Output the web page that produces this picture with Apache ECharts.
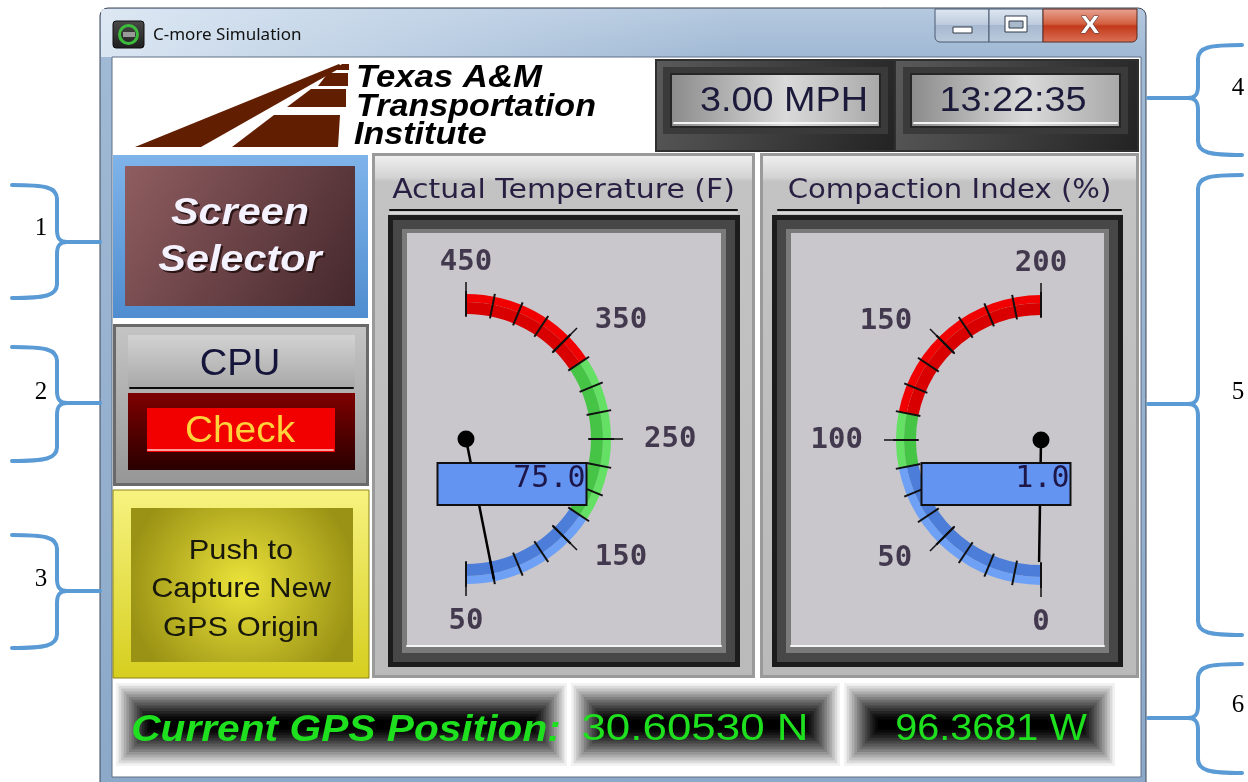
<!DOCTYPE html>
<html>
<head>
<meta charset="utf-8">
<title>C-more Simulation</title>
<script src="https://cdn.jsdelivr.net/npm/echarts@6/dist/echarts.min.js"></script>
<style>
  html, body { margin: 0; padding: 0; background: #fff; }
  #chart { width: 1248px; height: 782px; }
</style>
</head>
<body>
<div id="chart"></div>
<script>
// gauge scales and readings
const tempTicks = [50, 150, 250, 350, 450]
const tempBands = [175, 325, 450]      // top of blue, green, red zones
const tempValue = [75.0]
const compTicks = [0, 50, 100, 150, 200]
const compBands = [87.5, 112.5, 200]
const compValue = [1.0]

// readouts on the panel
const speedText = ['3.00 MPH']
const clockText = ['13:22:35']
const gpsLabel = ['Current GPS Position:']
const gpsCoords = ['30.60530 N', '96.3681 W']
const gaugeTitles = ['Actual Temperature (F)', 'Compaction Index (%)']
const buttonLines = ['Push to', 'Capture New', 'GPS Origin']
const calloutNums = ['1', '2', '3', '4', '5', '6']

const zoneMain = ['#4c7ed9', '#46c446', '#d80000']
const zoneRim = ['#6ea0f5', '#64e064', '#f00000']

const els = []
const LG = (x0, y0, x1, y1, stops) =>
  new echarts.graphic.LinearGradient(x0, y0, x1, y1, stops.map(s => ({ offset: s[0], color: s[1] })))
const RG = (r, stops) =>
  new echarts.graphic.RadialGradient(0.5, 0.5, r, stops.map(s => ({ offset: s[0], color: s[1] })))

function box(x, y, w, h, fill, stroke, lw, r) {
  const style = { fill }
  if (stroke) { style.stroke = stroke; style.lineWidth = lw || 1 }
  els.push({ type: 'rect', z: 1, z2: els.length, shape: { x, y, width: w, height: h, r: r || 0 }, style })
}
function line(x1, y1, x2, y2, stroke, lw) {
  els.push({ type: 'line', z: 1, z2: els.length, shape: { x1, y1, x2, y2 }, style: { stroke, lineWidth: lw || 1, lineCap: 'round' } })
}
function curve(x1, y1, cpx1, cpy1, cpx2, cpy2, x2, y2, stroke, lw) {
  els.push({
    type: 'bezierCurve', z: 1, z2: els.length,
    shape: { x1, y1, cpx1, cpy1, cpx2, cpy2, x2, y2 },
    style: { fill: null, stroke, lineWidth: lw, lineCap: 'round' }
  })
}
function poly(points, fill) {
  els.push({ type: 'polygon', z: 1, z2: els.length, shape: { points }, style: { fill } })
}
function txt(x, y, text, font, fill, align, sx, extra) {
  els.push({
    type: 'text', z: 1, z2: els.length, x, y, scaleX: sx || 1,
    style: Object.assign({ text, font, fill, align: align || 'center', verticalAlign: 'middle' }, extra || {})
  })
}
function pillow(x, y, w, h) {
  const n = 14
  for (let i = 0; i < n; i++) {
    const t = i / (n - 1)
    const g = Math.round(242 * Math.pow(1 - t, 1.3))
    const dx = i * 2.6, dy = i * 2.8
    box(x + dx, y + dy, w - 2 * dx, h - 2 * dy, `rgb(${g},${g},${g})`)
  }
}
function brace(xe, xv, xt, y0, ym, y1) {
  const d = xt > xv ? 1 : -1
  const c = '#5b9bd5', w = 4
  curve(xe, y0, xv - d * 12, y0, xv, y0 + 2, xv, y0 + 14, c, w)
  line(xv, y0 + 14, xv, ym - 12, c, w)
  curve(xv, ym - 12, xv, ym - 3, xv + d * 3, ym, xv + d * 10, ym, c, w)
  line(xv + d * 10, ym, xt, ym, c, w)
  curve(xv + d * 10, ym, xv + d * 3, ym, xv, ym + 3, xv, ym + 12, c, w)
  line(xv, ym + 12, xv, y1 - 14, c, w)
  curve(xv, y1 - 14, xv, y1 - 2, xv - d * 12, y1, xe, y1, c, w)
}

// ---- window chrome ----
box(100, 8, 1046, 800, LG(0, 0, 0, 1, [[0, '#b5c9df'], [0.06, '#a0b9d4'], [1, '#8ba8c9']]), '#3c4657', 1, [8, 8, 0, 0])
box(101, 9, 640, 48, LG(0, 0, 1, 0, [[0, 'rgba(228,237,247,0.85)'], [0.45, 'rgba(214,227,241,0.55)'], [1, 'rgba(214,227,241,0)']]))
box(112, 57, 1029, 720, '#ffffff', '#5f6f84', 1)
box(113, 21, 31, 27, LG(0, 0, 0, 1, [[0, '#4a4a4a'], [1, '#1e1e1e']]), '#0e0e0e', 1, 3)
els.push({ type: 'circle', z: 1, z2: els.length, shape: { cx: 128.5, cy: 34.5, r: 9 }, style: { fill: null, stroke: '#3dbb3d', lineWidth: 3 } })
box(123, 32, 12, 5, '#9a9a9a')
txt(153, 35, 'C-more Simulation', '17px "Noto Sans"', '#111', 'left')

box(935, 9, 54, 33, LG(0, 0, 0, 1, [[0, '#dfe8f2'], [0.48, '#bccbdd'], [0.5, '#a6b9d0'], [1, '#bccbdc']]), '#4a5a70', 1, [0, 0, 0, 5])
box(989, 9, 54, 33, LG(0, 0, 0, 1, [[0, '#dfe8f2'], [0.48, '#bccbdd'], [0.5, '#a6b9d0'], [1, '#bccbdc']]), '#4a5a70', 1)
box(1043, 9, 94, 33, LG(0, 0, 0, 1, [[0, '#eaa596'], [0.45, '#d2603f'], [0.52, '#c2381b'], [1, '#dc7257']]), '#5a2a20', 1, [0, 0, 5, 0])
box(953, 27, 19, 6, '#ffffff', '#303a48', 1)
box(1005, 16, 22, 16, '#ffffff', '#303a48', 1)
box(1009, 21, 14, 7, '#a9b9cc', '#303a48', 1)
txt(1090, 26, 'X', 'bold 24px "Liberation Sans"', '#ffffff', 'center', 1.15, { stroke: '#4a3a3a', lineWidth: 1 })

// ---- logo ----
const brown = '#621e00'
poly([[135, 147], [201, 147], [342, 67], [339, 64]], brown)
poly([[232, 147], [338, 147], [340, 115], [274, 115]], brown)
poly([[287, 107], [346, 107], [346, 89], [311, 89]], brown)
poly([[318, 86], [348, 86], [348, 73], [328, 73]], brown)
poly([[334, 70], [349, 70], [349, 64], [342, 64]], brown)
txt(356, 78, 'Texas A&M', 'italic bold 31px "Liberation Sans"', '#000', 'left', 1.12)
txt(356, 107, 'Transportation', 'italic bold 31px "Liberation Sans"', '#000', 'left', 1.1)
txt(354, 135, 'Institute', 'italic bold 31px "Liberation Sans"', '#000', 'left', 1.1)

// ---- speed / clock ----
box(655, 59, 484, 93, '#2f2f2f')
box(657, 61, 237, 89, LG(0, 0, 1, 1, [[0, '#5a5a5a'], [1, '#232323']]))
box(896, 61, 241, 89, LG(0, 0, 1, 1, [[0, '#5a5a5a'], [1, '#232323']]))
box(663, 67, 225, 67, '#3a3a3a')
box(903, 67, 225, 67, '#3a3a3a')
box(671, 74, 209, 53, LG(0, 0, 1, 0, [[0, '#8a8a8a'], [0.55, '#dadada'], [1, '#a8a8a8']]), '#262626', 2)
box(911, 74, 209, 53, LG(0, 0, 1, 0, [[0, '#8a8a8a'], [0.55, '#dadada'], [1, '#a8a8a8']]), '#262626', 2)
line(674, 123, 877, 123, '#f4f4f4', 2)
line(914, 123, 1117, 123, '#f4f4f4', 2)
txt(868, 101, speedText[0], '35px "Liberation Sans"', '#1c1a3a', 'right', 1.08)
txt(1013, 101, clockText[0], '35px "Liberation Sans"', '#1c1a3a', 'center', 1.08)

// ---- left buttons ----
box(113, 155, 255, 163, LG(0, 0, 0, 1, [[0, '#7fb4ea'], [1, '#4f8dd0']]))
box(125, 166, 230, 140, LG(0, 0, 1, 1, [[0, '#8f5d60'], [1, '#45282d']]))
txt(242, 216, 'Screen', 'italic bold 36px "Liberation Sans"', '#2a1414', 'center', 1.15)
txt(242, 263, 'Selector', 'italic bold 36px "Liberation Sans"', '#2a1414', 'center', 1.15)
txt(240, 214, 'Screen', 'italic bold 36px "Liberation Sans"', '#f4f2ff', 'center', 1.15)
txt(240, 261, 'Selector', 'italic bold 36px "Liberation Sans"', '#f4f2ff', 'center', 1.15)

box(113, 324, 256, 162, '#6a6a6a')
box(116, 327, 250, 156, LG(0, 0, 0, 1, [[0, '#c4c4c4'], [1, '#979797']]))
box(128, 335, 227, 52, LG(0, 0, 0, 1, [[0, '#d2d2d2'], [1, '#a9a9a9']]))
line(130, 388, 353, 388, '#0c0c0c', 2)
txt(240, 365, 'CPU', '36px "Liberation Sans"', '#15143a', 'center', 1.06)
box(128, 393, 227, 77, LG(0, 0, 0, 1, [[0, '#7e0000'], [1, '#2a0000']]))
box(147, 408, 188, 44, '#f20000')
line(148, 450, 333, 450, '#ff9c9c', 2)
txt(240, 432, 'Check', '36px "Liberation Sans"', '#ffd43a', 'center', 1.08)

box(113, 490, 256, 188, LG(0, 0, 0, 1, [[0, '#f7f380'], [1, '#d6ce1e']]), '#8a8418', 1)
box(131, 508, 222, 154, RG(0.75, [[0, '#ece43a'], [1, '#9a9214']]))
buttonLines.forEach((s, i) => txt(241, 551 + i * 38.5, s, '28px "Liberation Sans"', '#17170c', 'center', 1.1))

// ---- gauge panels ----
function gaugePanel(px, w, title, fx, fw, sx) {
  box(px, 153, w, 525, '#9a9a9a')
  box(px + 3, 156, w - 6, 519, LG(0, 0, 0, 1, [[0, '#efefef'], [0.04, '#d4d4d4'], [0.05, '#c3c3c3'], [1, '#bababa']]))
  txt(px + w / 2, 191, title, '26px "DejaVu Sans"', '#281f42', 'center', sx)
  line(px + 18, 210, px + w - 18, 210, '#111', 2)
  line(px + 18, 213, px + w - 18, 213, '#ececec', 1)
  box(fx, 215, fw, 452, '#1c1c1c')
  box(fx + 5, 220, fw - 10, 442, '#474747')
  box(fx + 14, 229, fw - 28, 424, '#7a7a7a')
  box(fx + 19, 233, fw - 38, 414, '#c9c7cb')
  line(fx + 19, 646, fx + fw - 19, 646, '#f4f4f4', 2)
}
gaugePanel(372, 383, gaugeTitles[0], 388, 352, 1.15)
gaugePanel(760, 379, gaugeTitles[1], 772, 351, 1.12)

// ---- GPS strip ----
pillow(116, 683, 451, 83)
pillow(571, 683, 269, 83)
pillow(844, 683, 271, 83)
txt(346, 731, gpsLabel[0], 'italic bold 37px "Liberation Sans"', '#1ee01e', 'center', 1.1)
txt(695, 730, gpsCoords[0], '36px "Liberation Sans"', '#1ee01e', 'center', 1.22)
txt(991, 730, gpsCoords[1], '36px "Liberation Sans"', '#1ee01e', 'center', 1.1)

// ---- call-out braces ----
brace(12, 57, 100, 185, 242, 298)
brace(12, 57, 100, 347, 403, 461)
brace(12, 57, 100, 535, 591, 648)
brace(1242, 1198, 1148, 45, 98, 155)
brace(1242, 1198, 1148, 175, 404, 635)
brace(1242, 1198, 1148, 664, 718, 773)
const numPos = [[41, 228], [41, 392], [41, 579], [1238, 88], [1238, 392], [1238, 705]]
calloutNums.forEach((n, i) => txt(numPos[i][0], numPos[i][1], n, '25px "Liberation Serif"', '#000'))

// ---- gauges ----
function zoneStops(ticks, bands, colors) {
  const lo = ticks[0], hi = ticks[ticks.length - 1]
  return bands.map((b, i) => [(b - lo) / (hi - lo), colors[i]])
}

function gaugeSeries(center, ticks, bands, value, angles, pointerLen, detailOffset) {
  const lo = ticks[0], hi = ticks[ticks.length - 1]
  const base = {
    type: 'gauge', center, min: lo, max: hi, splitNumber: ticks.length - 1,
    startAngle: angles[0], endAngle: angles[1], clockwise: angles[2], silent: true,
    splitLine: { show: false }, axisTick: { show: false }, axisLabel: { show: false },
    pointer: { show: false }, anchor: { show: false }, title: { show: false }, detail: { show: false },
    data: [{ value: value[0] }]
  }
  // light outer rim of the coloured band
  const rim = Object.assign({}, base, {
    z: 3, radius: 145,
    axisLine: { lineStyle: { width: 8, color: zoneStops(ticks, bands, zoneRim) } }
  })
  const main = Object.assign({}, base, {
    z: 4, radius: 137,
    axisLine: { lineStyle: { width: 12, color: zoneStops(ticks, bands, zoneMain) } },
    splitLine: { show: true, length: 35, distance: -32, lineStyle: { color: '#111', width: 1.5 } },
    axisTick: { show: true, splitNumber: 4, length: 25, distance: -23, lineStyle: { color: '#111', width: 2 } },
    pointer: { show: true, icon: 'rect', width: 2.5, length: pointerLen, offsetCenter: [0, 0], itemStyle: { color: '#000' } },
    anchor: { show: true, showAbove: true, size: 17, itemStyle: { color: '#000' } }
  })
  // value box sits above the needle
  const readout = Object.assign({}, base, {
    z: 5, radius: 137,
    axisLine: { show: false },
    detail: {
      show: true, offsetCenter: detailOffset, width: 147, height: 40, padding: 0,
      backgroundColor: '#6494f2', borderColor: '#101010', borderWidth: 2,
      formatter: v => '{v|' + v.toFixed(1) + '}',
      rich: { v: { width: 139, align: 'right', fontFamily: 'DejaVu Sans Mono', fontWeight: 'normal', fontSize: 30, color: '#1d1648' } },
      valueAnimation: false
    }
  })
  return [rim, main, readout]
}

function tickLabels(polarIndex, ticks, side) {
  const lo = ticks[0], hi = ticks[ticks.length - 1]
  return {
    type: 'scatter', coordinateSystem: 'polar', polarIndex, z: 6, symbolSize: 0, silent: true,
    data: ticks.map(v => ({
      value: [168, v],
      label: { position: v === hi ? 'top' : v === lo ? 'bottom' : side, distance: v === hi ? -6 : v === lo ? 0 : 10 }
    })),
    label: { show: true, formatter: p => String(p.value[1]), fontFamily: 'DejaVu Sans Mono', fontWeight: 'bold', fontSize: 29, color: '#20152e' }
  }
}

const tLo = tempTicks[0], tHi = tempTicks[tempTicks.length - 1]
const cLo = compTicks[0], cHi = compTicks[compTicks.length - 1]

const chart = echarts.init(document.getElementById('chart'))
chart.setOption({
  animation: false,
  graphic: { elements: els },
  polar: [
    { center: [466, 439], radius: 200 },
    { center: [1041, 440], radius: 200 }
  ],
  angleAxis: [
    { polarIndex: 0, type: 'value', min: tLo, max: tLo + 2 * (tHi - tLo), startAngle: 270, clockwise: false, show: false },
    { polarIndex: 1, type: 'value', min: cLo, max: cLo + 2 * (cHi - cLo), startAngle: 270, clockwise: true, show: false }
  ],
  radiusAxis: [
    { polarIndex: 0, type: 'value', min: 0, max: 200, show: false },
    { polarIndex: 1, type: 'value', min: 0, max: 200, show: false }
  ],
  series: [
    ...gaugeSeries([466, 439], tempTicks, tempBands, tempValue, [-90, 90, false], 143, [46, 45]),
    ...gaugeSeries([1041, 440], compTicks, compBands, compValue, [270, 90, true], 122, [-45, 44]),
    tickLabels(0, tempTicks, 'right'),
    tickLabels(1, compTicks, 'left')
  ]
})
</script>
</body>
</html>
